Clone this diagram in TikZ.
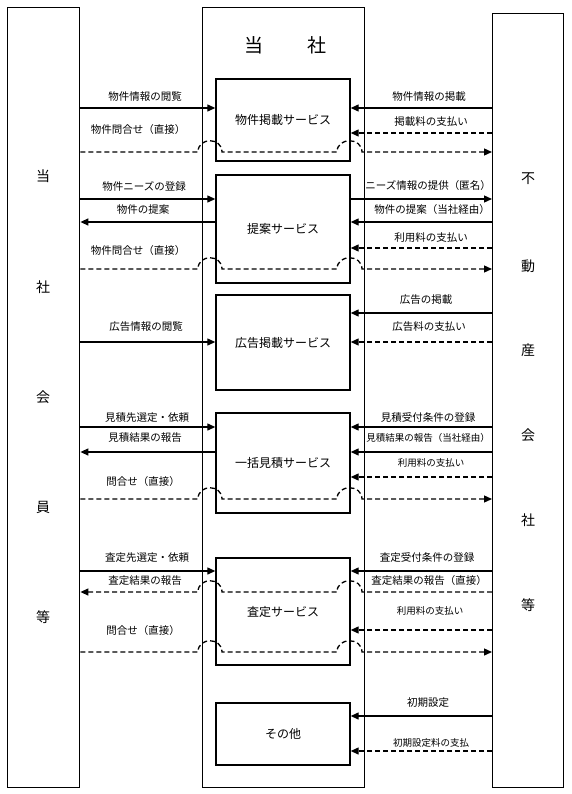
\documentclass[tikz,border=0pt]{standalone}
\usepackage{fontspec}
\setmainfont{Noto Sans CJK JP}
\usetikzlibrary{arrows.meta}
\begin{document}
\begin{tikzpicture}[x=1pt,y=-1pt,
  box/.style={draw, line width=1.4pt, inner sep=0pt, anchor=north west},
  svc/.style={draw, line width=1.4pt, inner sep=0pt, minimum width=134pt, font=\fontsize{12}{14}\selectfont},
  side/.style={font=\fontsize{14}{16}\selectfont, inner sep=0pt},
  ttl/.style={font=\fontsize{19}{22}\selectfont, inner sep=0pt},
  lbl/.style={font=\fontsize{10.5}{12}\selectfont, inner sep=0pt},
  slbl/.style={font=\fontsize{9.5}{11}\selectfont, inner sep=0pt},
  flow/.style={line width=1.3pt, -{Triangle[length=8pt,width=7pt]}},
  pay/.style={flow, dash pattern=on 5pt off 3pt}
]
\useasboundingbox (0,0) rectangle (571,794);
% main boxes
\node[box, minimum width=72pt, minimum height=780pt] (L) at (7,7) {};
\node[box, minimum width=162pt, minimum height=780pt] (C) at (202,7) {};
\node[box, minimum width=71pt, minimum height=774pt] (R) at (492,13) {};
% title
\node[ttl] (t1) at (254,45) {当};
\node[ttl] (t2) at (317,45) {社};
% left column
\node[side] (l1) at (43,176) {当};
\node[side] (l2) at (43,287) {社};
\node[side] (l3) at (43,397) {会};
\node[side] (l4) at (43,507) {員};
\node[side] (l5) at (43,617) {等};
% right column
\node[side] (r1) at (528,179) {不};
\node[side] (r2) at (528,266) {動};
\node[side] (r3) at (528,350) {産};
\node[side] (r4) at (528,435) {会};
\node[side] (r5) at (528,520) {社};
\node[side] (r6) at (528,605) {等};
% services
\node[svc, minimum height=82pt] (S1) at (283,120) {物件掲載サービス};
\node[svc, minimum height=108pt] (S2) at (283,229) {提案サービス};
\node[svc, minimum height=95pt] (S3) at (283,342.5) {広告掲載サービス};
\node[svc, minimum height=100pt] (S4) at (283,463) {一括見積サービス};
\node[svc, minimum height=107pt] (S5) at (283,611.5) {査定サービス};
\node[svc, minimum height=62pt] (S6) at (283,734) {その他};
% levels
\coordinate (y1a) at (0,108); \coordinate (y1b) at (0,133); \coordinate (y1c) at (0,152);
\coordinate (y2a) at (0,199); \coordinate (y2b) at (0,222); \coordinate (y2c) at (0,248); \coordinate (y2d) at (0,269);
\coordinate (y3a) at (0,313); \coordinate (y3b) at (0,342);
\coordinate (y4a) at (0,427); \coordinate (y4b) at (0,452); \coordinate (y4c) at (0,477); \coordinate (y4d) at (0,499);
\coordinate (y5a) at (0,571); \coordinate (y5b) at (0,592); \coordinate (y5c) at (0,630); \coordinate (y5d) at (0,652);
\coordinate (y6a) at (0,716); \coordinate (y6b) at (0,751);
% row 1
\draw[flow] (L.east |- y1a) -- (S1.west |- y1a);
\draw[flow] (R.west |- y1a) -- (S1.east |- y1a);
\draw[pay] (R.west |- y1b) -- (S1.east |- y1b);
\draw[pay] (L.east |- y1c) -- (198,152) .. controls (198,137) and (222,137) .. (222,152) -- (337,152) .. controls (337,137) and (362,137) .. (362,152) -- (R.west |- y1c);
\node[lbl] (a1) at (145,97) {物件情報の閲覧};
\node[lbl] (a2) at (429,97) {物件情報の掲載};
\node[lbl] (a3) at (431,122) {掲載料の支払い};
\node[lbl] (a4) at (138,130) {物件問合せ（直接）};
% row 2
\draw[flow] (L.east |- y2a) -- (S2.west |- y2a);
\draw[flow] (S2.west |- y2b) -- (L.east |- y2b);
\draw[flow] (S2.east |- y2a) -- (R.west |- y2a);
\draw[flow] (R.west |- y2b) -- (S2.east |- y2b);
\draw[pay] (R.west |- y2c) -- (S2.east |- y2c);
\draw[pay] (L.east |- y2d) -- (198,269) .. controls (198,254) and (222,254) .. (222,269) -- (337,269) .. controls (337,254) and (362,254) .. (362,269) -- (R.west |- y2d);
\node[lbl] (b1) at (144,186) {物件ニーズの登録};
\node[lbl] (b2) at (143,210) {物件の提案};
\node[lbl] (b3) at (428,186) {ニーズ情報の提供（匿名）};
\node[lbl] (b4) at (432,210) {物件の提案（当社経由）};
\node[lbl] (b5) at (431,238) {利用料の支払い};
\node[lbl] (b6) at (138,251) {物件問合せ（直接）};
% row 3
\draw[flow] (R.west |- y3a) -- (S3.east |- y3a);
\draw[pay] (R.west |- y3b) -- (S3.east |- y3b);
\draw[flow] (L.east |- y3b) -- (S3.west |- y3b);
\node[lbl] (c1) at (426,300) {広告の掲載};
\node[lbl] (c2) at (429,327) {広告料の支払い};
\node[lbl] (c3) at (146,327) {広告情報の閲覧};
% row 4
\draw[flow] (L.east |- y4a) -- (S4.west |- y4a);
\draw[flow] (S4.west |- y4b) -- (L.east |- y4b);
\draw[flow] (R.west |- y4a) -- (S4.east |- y4a);
\draw[flow] (R.west |- y4b) -- (S4.east |- y4b);
\draw[pay] (R.west |- y4c) -- (S4.east |- y4c);
\draw[pay] (L.east |- y4d) -- (198,499) .. controls (198,484) and (222,484) .. (222,499) -- (337,499) .. controls (337,484) and (362,484) .. (362,499) -- (R.west |- y4d);
\node[lbl] (d1) at (147,418) {見積先選定・依頼};
\node[lbl] (d2) at (145,438) {見積結果の報告};
\node[lbl] (d3) at (428,418) {見積受付条件の登録};
\node[slbl] (d4) at (428,438) {見積結果の報告（当社経由）};
\node[slbl] (d5) at (431,463) {利用料の支払い};
\node[lbl] (d6) at (143,482) {問合せ（直接）};
% row 5
\draw[flow] (L.east |- y5a) -- (S5.west |- y5a);
\draw[flow] (R.west |- y5a) -- (S5.east |- y5a);
\draw[pay] (R.west |- y5b) -- (362,592) .. controls (362,577) and (337,577) .. (337,592) -- (222,592) .. controls (222,577) and (198,577) .. (198,592) -- (L.east |- y5b);
\draw[pay] (R.west |- y5c) -- (S5.east |- y5c);
\draw[pay] (L.east |- y5d) -- (198,652) .. controls (198,637) and (222,637) .. (222,652) -- (337,652) .. controls (337,637) and (362,637) .. (362,652) -- (R.west |- y5d);
\node[lbl] (e1) at (147,558) {査定先選定・依頼};
\node[lbl] (e2) at (145,581) {査定結果の報告};
\node[lbl] (e3) at (427,558) {査定受付条件の登録};
\node[lbl] (e4) at (429,581) {査定結果の報告（直接）};
\node[slbl] (e5) at (430,611) {利用料の支払い};
\node[lbl] (e6) at (143,631) {問合せ（直接）};
% row 6
\draw[flow] (R.west |- y6a) -- (S6.east |- y6a);
\draw[pay] (R.west |- y6b) -- (S6.east |- y6b);
\node[lbl] (f1) at (428,703) {初期設定};
\node[slbl] (f2) at (431,743) {初期設定料の支払};
\end{tikzpicture}
\end{document}
